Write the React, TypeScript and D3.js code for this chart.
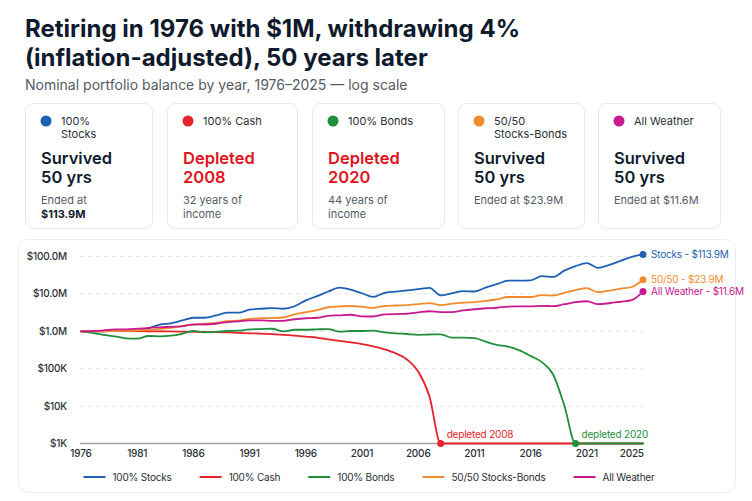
import React from 'react';
import * as d3 from 'd3';

// Year-by-year nominal balances (in $M), start of 1976 through the end of 2025
const years = d3.range(1976, 2027);

const stocksM = [
  1.0, 0.99, 1.0, 1.06, 1.02, 1.02, 1.19, 1.51, 1.64, 1.95,
  2.3, 2.3, 2.65, 3.14, 3.14, 3.78, 4.01, 4.19, 4.01, 4.68,
  6.7, 8.72, 11.6, 14.7, 13.0, 10.4, 8.3, 10.7, 11.5, 12.4,
  13.4, 14.5, 9.15, 10.4, 11.9, 11.6, 14.7, 18.2, 22.6, 22.6,
  23.0, 29.8, 28.4, 41.9, 55.3, 66.5, 49.8, 59.6, 76.2, 97.9,
  113.9,
];
const cashM = [
  1.0, 1.0, 1.01, 1.02, 1.02, 1.01, 1.0, 0.99, 0.99, 0.98,
  0.97, 0.96, 0.95, 0.94, 0.91, 0.884, 0.868, 0.841, 0.806, 0.767,
  0.721, 0.678, 0.61, 0.556, 0.507, 0.457, 0.396, 0.329, 0.257, 0.177,
  0.0845, 0.0182, 0.001, 0.001, 0.001, 0.001, 0.001, 0.001, 0.001, 0.001,
  0.001, 0.001, 0.001, 0.001, 0.001, 0.001, 0.001, 0.001, 0.001, 0.001,
  0.001,
];
const bondsM = [
  1.0, 0.912, 0.806, 0.735, 0.649, 0.637, 0.748, 0.735, 0.762, 0.857,
  1.03, 0.94, 0.97, 1.02, 1.04, 1.12, 1.15, 1.17, 1.0, 1.1,
  1.1, 1.13, 1.15, 0.98, 1.02, 1.02, 1.04, 0.93, 0.884, 0.847,
  0.806, 0.821, 0.831, 0.678, 0.678, 0.657, 0.53, 0.434, 0.389, 0.309,
  0.22, 0.15, 0.07, 0.0104, 0.001, 0.001, 0.001, 0.001, 0.001, 0.001,
  0.001,
];
const balancedM = [
  1.0, 1.0, 1.0, 1.02, 1.03, 1.05, 1.09, 1.16, 1.23, 1.4,
  1.49, 1.59, 1.69, 1.87, 1.92, 2.16, 2.23, 2.26, 2.34, 2.85,
  3.23, 3.66, 4.4, 4.63, 4.75, 4.54, 4.19, 4.75, 4.89, 5.04,
  5.36, 5.7, 5.04, 5.46, 5.81, 6.03, 6.49, 7.13, 8.27, 8.27,
  8.27, 9.22, 9.05, 10.7, 12.6, 14.2, 11.1, 12.2, 13.8, 15.3,
  23.9,
];
const allWeatherM = [
  1.0, 1.01, 1.06, 1.13, 1.13, 1.17, 1.24, 1.28, 1.32, 1.36,
  1.54, 1.52, 1.59, 1.76, 1.85, 1.95, 1.95, 1.91, 1.91, 2.1,
  2.23, 2.3, 2.6, 2.68, 2.77, 2.52, 2.49, 2.82, 2.89, 2.95,
  3.19, 3.44, 3.27, 3.27, 3.61, 3.89, 4.13, 4.26, 4.59, 4.62,
  4.62, 4.8, 4.69, 5.3, 5.99, 6.37, 5.3, 5.63, 6.17, 6.78,
  11.6,
];

const seriesNames = ['100% Stocks', '100% Cash', '100% Bonds', '50/50 Stocks-Bonds', 'All Weather'];
const seriesValues = [stocksM, cashM, bondsM, balancedM, allWeatherM];
const seriesColors = ['#1f5fb4', '#e6222a', '#1f8f3c', '#f28a2e', '#c8198f'];
const endLabels = ['Stocks - $113.9M', '', '', '50/50 - $23.9M', 'All Weather - $11.6M'];
const depletedYears = [0, 2008, 2020, 0, 0];

const yTickValues = [1e3, 1e4, 1e5, 1e6, 1e7, 1e8];
const yTickLabels = ['$1K', '$10K', '$100K', '$1.0M', '$10.0M', '$100.0M'];
const xTickValues = [1976, 1981, 1986, 1991, 1996, 2001, 2006, 2011, 2016, 2021, 2025];

const cardTitles = [['100%', 'Stocks'], ['100% Cash'], ['100% Bonds'], ['50/50', 'Stocks-Bonds'], ['All Weather']];
const cardHeadlines = [['Survived', '50 yrs'], ['Depleted', '2008'], ['Depleted', '2020'], ['Survived', '50 yrs'], ['Survived', '50 yrs']];
const cardNotes = [['Ended at', '$113.9M'], ['32 years of', 'income'], ['44 years of', 'income'], ['Ended at $23.9M'], ['Ended at $11.6M']];
const cardDepleted = [false, true, true, false, false];

const FONT = 'Inter, "Noto Sans", sans-serif';
const INK = '#0f1b2d';
const MUTED = '#555b66';
const AXIS_INK = '#2b2f36';
const RED_TEXT = '#e0141e';

// card boxes: left edge and width of each summary card
const cardLefts = [25, 167, 312, 458, 598];
const cardWidths = [127, 130, 132, 126, 122];

const CHART_FS = 10;
const CHART_LS = -0.2;

const measure = (text: string, font: string, spacing: number) => {
  const ctx = document.createElement('canvas').getContext('2d');
  if (!ctx) return text.length * 5.5;
  ctx.font = font;
  return ctx.measureText(text).width + spacing * text.length;
};

export default function App() {
  const W = 752;
  const H = 501;
  const x = d3.scaleLinear().domain([1976, 2026]).range([81, 643]);
  const y = d3.scaleLog().domain([1e3, 1e8]).range([443.5, 256.5]);

  const line = d3
    .line<number>()
    .x((_, i) => x(years[i]))
    .y((v) => y(v * 1e6))
    .curve(d3.curveMonotoneX);

  const cardY = 103;
  const cardH = 125;

  // legend layout, centred under the plot
  const legendFont = `${CHART_FS}px Inter`;
  const swatch = 22;
  const swGap = 7;
  const itemGap = 28;
  const widths = seriesNames.map((n) => swatch + swGap + measure(n, legendFont, CHART_LS));
  const totalW = d3.sum(widths) + itemGap * (widths.length - 1);
  let lx = 369 - totalW / 2;
  const legendX = widths.map((w) => {
    const p = lx;
    lx += w + itemGap;
    return p;
  });
  const legendY = 477;

  const last = years.length - 1;

  return (
    <svg
      width={W}
      height={H}
      viewBox={`0 0 ${W} ${H}`}
      style={{ position: 'absolute', left: 0, top: 0, background: '#ffffff', fontFamily: FONT }}
    >
      <rect x={0} y={0} width={W} height={H} fill="#ffffff" />

      {/* heading */}
      <text x={25} y={37} fontSize={24} fontWeight={700} fill={INK}>
        Retiring in 1976 with $1M, withdrawing 4%
      </text>
      <text x={25} y={66} fontSize={24} fontWeight={700} fill={INK}>
        (inflation-adjusted), 50 years later
      </text>
      <text x={25} y={90} fontSize={14} fill={MUTED}>
        Nominal portfolio balance by year, 1976–2025 — log scale
      </text>

      {/* summary cards */}
      {seriesNames.map((_, i) => (
        <g key={`card-${i}`} transform={`translate(${cardLefts[i]},${cardY})`}>
          <rect x={0.5} y={0.5} width={cardWidths[i]} height={cardH} rx={8} fill="#ffffff" stroke="#e7e8ec" />
          <circle cx={21} cy={18} r={5.5} fill={seriesColors[i]} />
          {cardTitles[i].map((t, j) => (
            <text key={j} x={36} y={22 + j * 12.5} fontSize={11} fill={AXIS_INK}>
              {t}
            </text>
          ))}
          {cardHeadlines[i].map((t, j) => (
            <text
              key={j}
              x={16}
              y={60.5 + j * 19}
              fontSize={16.5}
              fontWeight={600}
              fill={cardDepleted[i] ? RED_TEXT : INK}
            >
              {t}
            </text>
          ))}
          {cardNotes[i].map((t, j) => (
            <text
              key={j}
              x={16}
              y={101 + j * 14}
              fontSize={11}
              fontWeight={i === 0 && j === 1 ? 700 : 400}
              fill={i === 0 && j === 1 ? INK : MUTED}
            >
              {t}
            </text>
          ))}
        </g>
      ))}

      {/* chart panel */}
      <rect x={18.5} y={239.5} width={717} height={253} rx={10} fill="#ffffff" stroke="#ececef" />

      <g fontSize={CHART_FS} letterSpacing={CHART_LS} fill={AXIS_INK}>
        {/* grid */}
        {yTickValues.slice(1).map((v) => (
          <line
            key={`g-${v}`}
            x1={80}
            x2={643}
            y1={y(v)}
            y2={y(v)}
            stroke="#e4e4e8"
            strokeWidth={1}
            strokeDasharray="4 4"
          />
        ))}
        <line x1={80} x2={643} y1={y(1e3)} y2={y(1e3)} stroke="#a0a0a6" strokeWidth={1.5} />

        {/* y labels */}
        {yTickValues.map((v, i) => (
          <text key={`yl-${v}`} x={67} y={y(v) + 3.5} textAnchor="end" fontWeight={500}>
            {yTickLabels[i]}
          </text>
        ))}

        {/* x labels */}
        {xTickValues.map((yr) => (
          <text key={`xl-${yr}`} x={x(yr)} y={457} textAnchor="middle" fontWeight={500}>
            {yr}
          </text>
        ))}

        {/* series */}
        {seriesValues.map((vals, i) => (
          <path
            key={`s-${i}`}
            d={line(vals) || ''}
            fill="none"
            stroke={seriesColors[i]}
            strokeWidth={1.8}
            strokeLinejoin="round"
            strokeLinecap="round"
          />
        ))}

        {/* end-of-period labels */}
        {seriesValues.map((vals, i) =>
          endLabels[i] ? (
            <g key={`end-${i}`}>
              <circle cx={x(years[last])} cy={y(vals[last] * 1e6)} r={3.5} fill={seriesColors[i]} />
              <text x={x(years[last]) + 8} y={y(vals[last] * 1e6) + 3.5} fill={seriesColors[i]}>
                {endLabels[i]}
              </text>
            </g>
          ) : null
        )}

        {/* depletion markers */}
        {depletedYears.map((yr, i) =>
          yr ? (
            <g key={`dep-${i}`}>
              <circle cx={x(yr)} cy={y(1e3)} r={3.5} fill={seriesColors[i]} />
              <text x={x(yr) + 6} y={y(1e3) - 6} fill={seriesColors[i]}>
                {`depleted ${yr}`}
              </text>
            </g>
          ) : null
        )}

        {/* legend */}
        {seriesNames.map((n, i) => (
          <g key={`lg-${i}`} transform={`translate(${legendX[i]},${legendY})`}>
            <line x1={0} x2={swatch} y1={0} y2={0} stroke={seriesColors[i]} strokeWidth={2} />
            <text x={swatch + swGap} y={3.5}>
              {n}
            </text>
          </g>
        ))}
      </g>
    </svg>
  );
}
